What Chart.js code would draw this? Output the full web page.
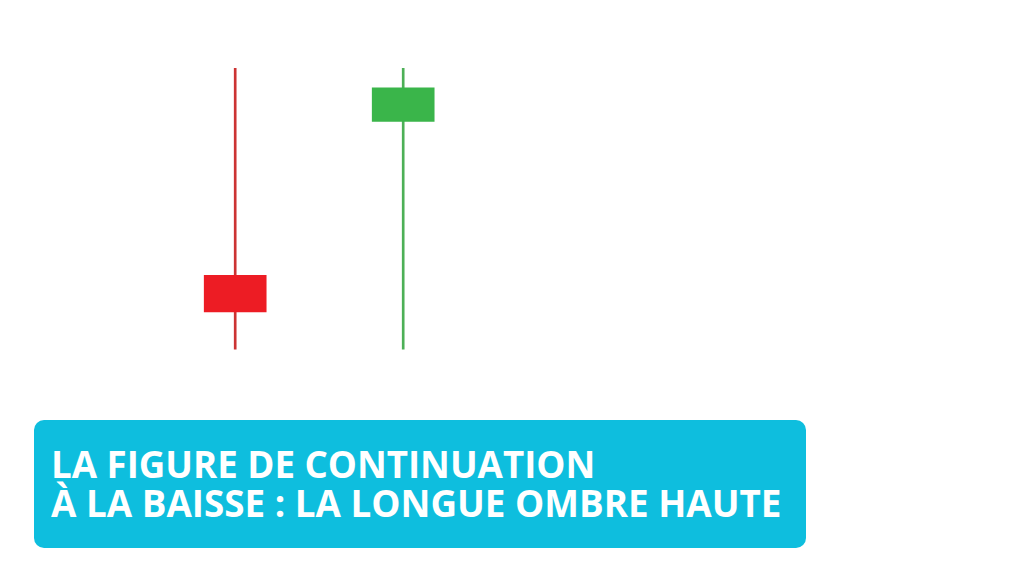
<!DOCTYPE html>
<html>
<head>
<meta charset="utf-8">
<script src="https://cdn.jsdelivr.net/npm/chart.js@4.4.1/dist/chart.umd.min.js"></script>
<style>
  html, body { margin: 0; padding: 0; background: #ffffff; }
  #wrap { position: relative; width: 1024px; height: 576px; overflow: hidden; background: #fff; }
  #c { position: absolute; left: 0; top: 0; }
  #banner {
    position: absolute; left: 34px; top: 420px; width: 772px; height: 128px;
    background: #0EBEDE; border-radius: 10px;
  }
  .line {
    position: absolute; left: 51px; white-space: nowrap; display: inline-block;
    font-family: 'Open Sans', sans-serif; font-weight: 700; font-size: 38px;
    line-height: 38px; color: #ffffff; transform-origin: 0 0;
  }
</style>
</head>
<body>
<div id="wrap">
  <canvas id="c" width="1024" height="576"></canvas>
  <div id="banner"></div>
  <div class="line" id="l1" style="top:444px">LA FIGURE DE CONTINUATION</div>
  <div class="line" id="l2" style="top:483px">À LA BAISSE : LA LONGUE OMBRE HAUTE</div>
</div>
<script>
// Candle data (price units)
const categories = ['Bougie 1', 'Bougie 2'];
const opens  = [26.3, 81.1];
const closes = [13.2, 93.0];
const highs  = [100, 100];
const lows   = [0, 0];
const titleLines = ['LA FIGURE DE CONTINUATION', 'À LA BAISSE : LA LONGUE OMBRE HAUTE'];

const bodyColors = opens.map((o, i) => closes[i] < o ? '#ED1C24' : '#3AB54A');
const wickColors = opens.map((o, i) => closes[i] < o ? '#CC3333' : '#4DB057');

document.getElementById('l1').textContent = titleLines[0];
document.getElementById('l2').textContent = titleLines[1];

new Chart(document.getElementById('c'), {
  type: 'bar',
  data: {
    labels: categories,
    datasets: [
      {
        label: 'Mèches',
        data: lows.map((l, i) => [l, highs[i]]),
        backgroundColor: wickColors,
        barThickness: 2,
        grouped: false,
        borderWidth: 0,
        order: 2
      },
      {
        label: 'Corps',
        data: opens.map((o, i) => [o, closes[i]]),
        backgroundColor: bodyColors,
        barThickness: 62,
        grouped: false,
        borderWidth: 0,
        order: 1
      }
    ]
  },
  options: {
    responsive: false,
    animation: false,
    devicePixelRatio: 1,
    layout: { padding: { left: 151.2, right: 536.8, top: 0, bottom: 0 } },
    plugins: { legend: { display: false }, tooltip: { enabled: false } },
    scales: {
      x: { type: 'category', display: false, offset: true, grid: { display: false } },
      y: { display: false, min: -80.8, max: 124.3, grid: { display: false } }
    }
  }
});

// fit title lines to the reference widths (offsetWidth ignores transforms)
function fit(id, targetW) {
  const el = document.getElementById(id);
  const w = el.offsetWidth;
  if (w > 0) el.style.transform = 'scaleX(' + (targetW / w) + ')';
}
function fitAll() { fit('l1', 544); fit('l2', 730); }
fitAll();
if (document.fonts && document.fonts.ready) document.fonts.ready.then(fitAll);
</script>
</body>
</html>
